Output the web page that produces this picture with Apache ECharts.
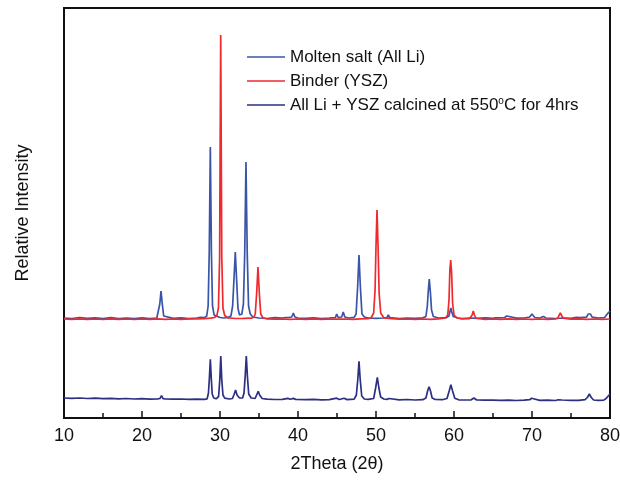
<!DOCTYPE html>
<html>
<head>
<meta charset="utf-8">
<script src="https://cdn.jsdelivr.net/npm/echarts@6/dist/echarts.min.js"></script>
<style>
  html, body { margin: 0; padding: 0; background: #fff; }
  #chart { width: 620px; height: 480px; }
</style>
</head>
<body>
<div id="chart"></div>
<script>
// series names (legend order)
const seriesNames = ['Molten salt (All Li)', 'Binder (YSZ)', 'All Li + YSZ calcined at 550°C for 4hrs']
const xTicks = [10, 20, 30, 40, 50, 60, 70, 80]

// [2theta, intensity] (arbitrary units, offset patterns)
const saltPattern = [
    [10,100],[11,99.5],[12,100.5],[13,99.6],[14,100.2],[15,99.4],[16,100.3],[17,99.5],[18,100],[19,99.3],[20,100.1],[21,99.5],
    [21.9,100],[22.12,102],[22.28,114],[22.44,127],[22.6,114],[22.78,102],[23,100],[24,99.6],[25,100.2],[26,99.4],[27,100],
    [27.5,100.6],[28,100.4],[28.3,102],[28.48,112],[28.62,165],[28.76,271],[28.9,165],[29.04,112],[29.25,103],[29.5,101],
    [30,100.5],[30.5,100],[31,100.5],[31.4,102],[31.62,112],[31.8,140],[31.96,166],[32.12,140],[32.3,110],[32.5,103],
    [32.8,104],[33.0,114],[33.17,165],[33.33,256],[33.49,165],[33.66,112],[33.88,104],[34.2,101],[35,100],[36,99.5],
    [37,100.3],[38,100],[38.45,100.5],[38.63,101.5],[38.8,100.5],[39.2,101],[39.4,105],[39.6,101],[40,100],[41,99.6],
    [42,100.2],[43,99.5],[44,100],[44.8,100.5],[44.96,104],[45.15,100.5],[45.6,101],[45.8,106],[46.0,101],[46.5,100],
    [47.2,100.6],[47.45,104],[47.65,132],[47.82,163],[47.99,132],[48.2,104],[48.5,101],[49,100],[50,99.6],[51,100],
    [51.4,100.5],[51.58,103],[51.76,100.5],[52,100],[53,99.4],[54,100],[55,99.6],[56,100.1],[56.4,101.5],[56.58,112],
    [56.7,127],[56.83,139],[56.98,125],[57.12,108],[57.35,101.5],[58,100],[59,100.3],[59.35,102],[59.5,107],[59.6,110],
    [59.72,106],[59.9,101.5],[60.5,100],[61,99.5],[62,100],[63,99.7],[64,100.2],[65,99.6],[65.3,100.2],[65.47,101.5],
    [65.65,100.2],[66.5,100.5],[66.76,102],[67,100.5],[68,99.8],[69,100],[69.7,101],[69.88,103],[70.0,104],[70.15,103],
    [70.35,100.5],[71,100],[71.45,101.5],[71.8,100],[73,99.5],[74,100],[75,99.7],[75.7,100.6],[75.94,101.5],[76.2,100.3],
    [77,100.8],[77.2,104],[77.35,106],[77.5,104],[77.7,100.8],[78.5,100],[79.3,100.4],[79.55,102],[79.75,105],[80,107]
]

const binderPattern = [
    [10,99],[11,98.6],[12,99.2],[13,98.7],[14,99],[15,98.5],[16,99.1],[17,98.6],[18,99],[19,98.5],[20,99],[21,98.7],
    [22,99.2],[23,98.7],[24,99],[25,98.6],[26,99.1],[27,99],[28,99.4],[28.8,99.8],[29.3,100.5],[29.6,102.5],[29.8,110],
    [29.95,160],[30.09,383],[30.23,160],[30.38,110],[30.6,102.5],[31,100.2],[32,99.5],[33,99.6],[34,99.8],[34.3,100.5],
    [34.52,104],[34.7,125],[34.87,151],[35.04,125],[35.22,104],[35.5,100.3],[36,99.2],[37,98.8],[38,99],[39,98.6],
    [40,99],[41,98.7],[42,99.1],[43,98.6],[44,99],[45,98.8],[46,99],[47,98.7],[48,99.2],[49,99.4],[49.4,100.5],[49.7,105],
    [49.88,128],[50.0,172],[50.13,208],[50.27,170],[50.4,125],[50.6,105],[51,100.2],[52,99.3],[53,98.8],[54,99],
    [55,98.6],[56,99],[57,98.7],[58,99.2],[58.9,100],[59.2,103],[59.36,118],[59.47,148],[59.58,158],[59.7,144],
    [59.82,115],[60.0,103],[60.4,100],[61,99.2],[62,99.4],[62.2,100],[62.33,103],[62.47,107],[62.62,103],[62.8,100],
    [63.5,99],[64,98.7],[65,99],[66,98.6],[67,99.1],[68,98.7],[69,99],[70,98.6],[71,99],[72,98.7],[73,99],[73.3,99.8],
    [73.46,102.5],[73.63,105],[73.8,102.5],[74,99.8],[75,98.8],[76,99.1],[77,98.7],[78,99],[79,98.7],[80,99]
]

const calcinedPattern = [
    [10,20],[11,19.7],[12,20],[13,19.5],[14,19.8],[15,19.3],[16,19.6],[17,19.2],[18,19.5],[19,19],[20,19.3],[21,18.9],
    [22,19.1],[22.3,19.5],[22.5,22.3],[22.7,19.3],[23,19],[24,18.8],[25,19],[26,18.6],[27,18.9],[28,18.7],[28.35,19.2],
    [28.52,25],[28.64,40],[28.76,58.7],[28.88,40],[29.0,24],[29.2,20],[29.5,19.2],[29.82,21.5],[29.97,38],[30.1,62],
    [30.23,38],[30.38,23],[30.6,19.8],[31.2,19],[31.6,19.5],[31.8,23.5],[32.0,28],[32.18,23],[32.5,20],[32.9,20],[33.08,25],
    [33.23,42],[33.37,62],[33.51,42],[33.68,24],[34.0,20],[34.5,19.5],[34.72,23.5],[34.9,26.7],[35.08,23],[35.4,19.5],
    [36,18.8],[37,18.5],[38,18.6],[38.7,19.6],[39.0,18.8],[39.4,19.6],[39.7,18.6],[41,18.3],[42,18.6],[43,18.2],
    [44,18.4],[44.96,19.8],[45.3,18.5],[45.9,19.8],[46.3,18.4],[47.2,18.8],[47.48,23],[47.67,39],[47.82,56.7],[47.97,39],
    [48.17,22],[48.5,19],[49,18.6],[49.7,19.5],[49.95,30],[50.17,40.7],[50.37,30],[50.6,21],[51,19],[51.4,18.6],
    [51.67,19.5],[51.9,18.4],[53,18.2],[54,18.5],[55,18],[56,18.3],[56.4,20],[56.63,27.5],[56.8,31.3],[56.97,27.5],[57.2,20],
    [57.6,18.5],[58.5,18.3],[59.1,19.5],[59.4,27.5],[59.6,33.3],[59.8,27.5],[60.1,19.8],[60.6,18.2],[61.5,18],[62.2,18.2],
    [62.56,20],[62.9,18],[64,17.8],[65,17.9],[66,17.6],[67,17.9],[68,17.5],[69,17.8],[69.7,18.3],[69.96,19.7],[70.2,18.2],
    [71,17.6],[72,17.8],[73,17.5],[73.35,18.2],[73.6,19.7],[73.85,18],[75,17.7],[76,17.6],[76.8,18.3],[77.1,20.5],
    [77.35,24],[77.6,20.5],[77.9,18],[78.5,17.7],[79.2,17.9],[79.5,19.5],[79.8,22.3],[80,24]
]

const seriesColors = ['#3a55a8', '#ee2a2f', '#2c2f82']

const font = '"Liberation Sans", Arial, Helvetica, sans-serif'
const chart = echarts.init(document.getElementById('chart'), null, { renderer: 'canvas' })

const mkLine = (name, data, color) => ({
    name: name,
    type: 'line',
    data: data,
    symbol: 'none',
    smooth: false,
    animation: false,
    lineStyle: { color: color, width: 1.7 },
    itemStyle: { color: color }
})

chart.setOption({
    animation: false,
    textStyle: { fontFamily: font, color: '#111' },
    grid: {
        left: 64,
        right: 10,
        top: 8,
        bottom: 62,
        outerBoundsMode: 'none',
        show: true,
        borderColor: '#111',
        borderWidth: 2
    },
    legend: {
        orient: 'vertical',
        left: 247,
        top: 47,
        padding: 0,
        icon: 'rect',
        itemWidth: 38,
        itemHeight: 1.6,
        itemGap: 4,
        data: seriesNames,
        formatter: function (name) {
            return name.replace('550°C', '550{sup|o}C')
        },
        textStyle: {
            fontFamily: font,
            fontSize: 17,
            color: '#111',
            lineHeight: 20,
            rich: {
                sup: { fontSize: 10, fontFamily: font, color: '#111', padding: [0, 0, 8, 0] }
            }
        }
    },
    xAxis: {
        type: 'value',
        min: 10,
        max: 80,
        interval: 10,
        name: '2Theta (2θ)',
        nameLocation: 'middle',
        nameGap: 37,
        nameTextStyle: { fontSize: 18, color: '#111', fontFamily: font },
        axisLine: { show: true, lineStyle: { color: '#111', width: 2 } },
        axisTick: { show: true, inside: true, length: 7, lineStyle: { color: '#111', width: 1.5 } },
        minorTick: { show: true, splitNumber: 2, length: 5, lineStyle: { color: '#111', width: 1.5 } },
        axisLabel: {
            fontSize: 18,
            color: '#111',
            margin: 9,
            formatter: function (v) { return xTicks.indexOf(v) >= 0 ? String(v) : '' }
        },
        splitLine: { show: false }
    },
    yAxis: {
        type: 'value',
        min: 0,
        max: 410,
        name: 'Relative Intensity',
        nameLocation: 'middle',
        nameGap: 32,
        nameTextStyle: { fontSize: 18, color: '#111', fontFamily: font },
        axisLine: { show: true, lineStyle: { color: '#111', width: 2 } },
        axisTick: { show: false },
        axisLabel: { show: false },
        splitLine: { show: false }
    },
    series: [
        mkLine(seriesNames[0], saltPattern, seriesColors[0]),
        mkLine(seriesNames[1], binderPattern, seriesColors[1]),
        mkLine(seriesNames[2], calcinedPattern, seriesColors[2])
    ]
})
</script>
</body>
</html>
